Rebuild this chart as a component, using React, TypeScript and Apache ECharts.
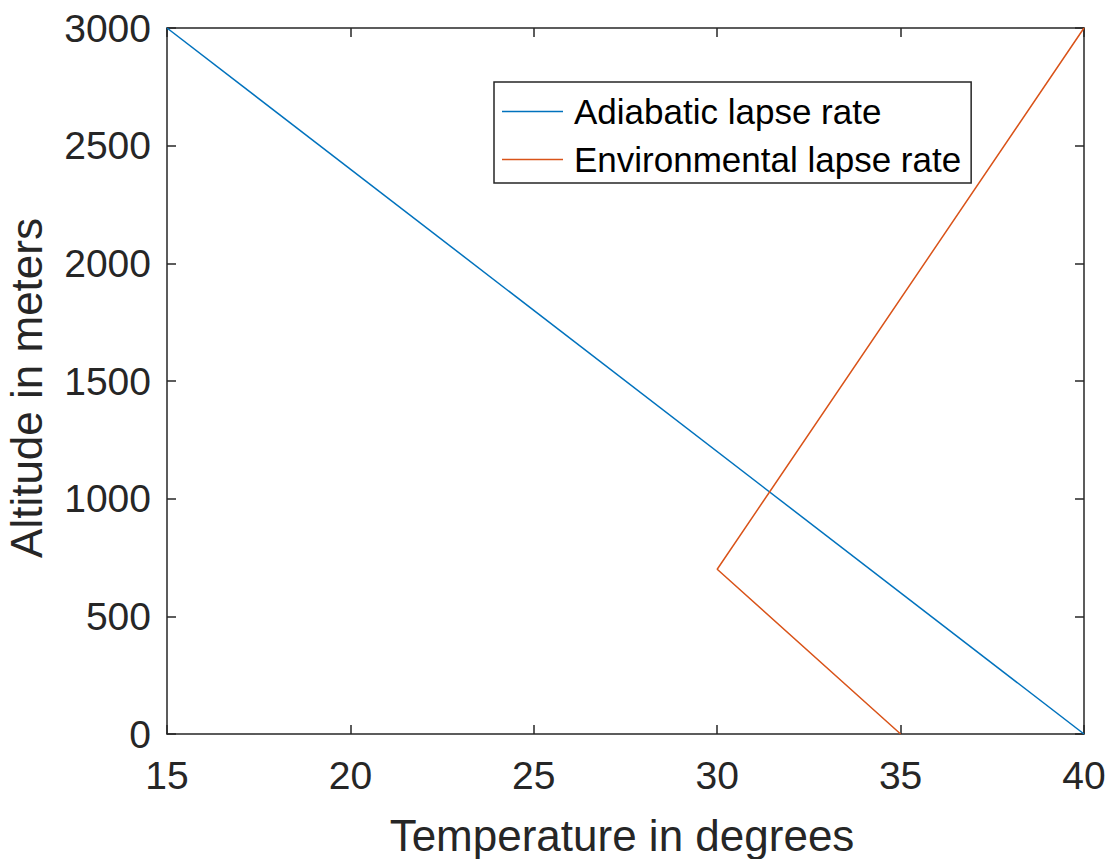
import React, { useEffect, useRef } from "react";
import * as echarts from "echarts";

const adiabaticTemp = [40, 15];
const adiabaticAlt = [0, 3000];
const environmentalTemp = [35, 30, 40];
const environmentalAlt = [0, 700, 3000];
const seriesNames = ["Adiabatic lapse rate", "Environmental lapse rate"];
const xTitle = "Temperature in degrees";
const yTitle = "Altitude in meters";

const FONT = "Arial, 'Liberation Sans', Helvetica, sans-serif";
const AXIS = "#262626";

export default function App() {
  const ref = useRef<HTMLDivElement>(null);
  useEffect(() => {
    if (!ref.current) return;
    const chart = echarts.init(ref.current, null, { renderer: "svg" });
    const tickStyle = { show: true, inside: true, length: 9, lineStyle: { color: AXIS, width: 1.5 } };
    const lineStyleAxis = { show: true, onZero: false, lineStyle: { color: AXIS, width: 1.5 } };
    chart.setOption({
      animation: false,
      backgroundColor: "#ffffff",
      grid: { left: 167, right: 30, top: 28, bottom: 125, containLabel: false },
      xAxis: [
        {
          type: "value", min: 15, max: 40, interval: 5, position: "bottom",
          axisLine: lineStyleAxis, axisTick: tickStyle, splitLine: { show: false },
          axisLabel: { color: AXIS, fontSize: 39, fontFamily: FONT, margin: 22, formatter: (v: number) => String(v) },
        },
        {
          type: "value", min: 15, max: 40, interval: 5, position: "top",
          axisLine: lineStyleAxis, axisTick: tickStyle, splitLine: { show: false },
          axisLabel: { show: false },
        },
      ],
      yAxis: [
        {
          type: "value", min: 0, max: 3000, interval: 500, position: "left",
          axisLine: lineStyleAxis, axisTick: tickStyle, splitLine: { show: false },
          axisLabel: { color: AXIS, fontSize: 39, fontFamily: FONT, margin: 16, formatter: (v: number) => String(v) },
        },
        {
          type: "value", min: 0, max: 3000, interval: 500, position: "right",
          axisLine: lineStyleAxis, axisTick: tickStyle, splitLine: { show: false },
          axisLabel: { show: false },
        },
      ],
      legend: {
        orient: "vertical",
        left: 494,
        top: 82,
        padding: [12, 10, 6, 8],
        itemGap: 13,
        itemWidth: 61,
        itemHeight: 1.5,
        icon: "rect",
        backgroundColor: "#ffffff",
        borderColor: AXIS,
        borderWidth: 1.5,
        borderRadius: 0,
        textStyle: { fontSize: 35, fontFamily: FONT, color: "#000000", padding: [0, 0, 0, 6] },
        data: seriesNames,
      },
      series: [
        {
          name: seriesNames[0],
          type: "line",
          xAxisIndex: 0,
          yAxisIndex: 0,
          symbol: "none",
          color: "#0072BD",
          lineStyle: { color: "#0072BD", width: 1.5 },
          data: adiabaticTemp.map((t, i) => [t, adiabaticAlt[i]]),
        },
        {
          name: seriesNames[1],
          type: "line",
          xAxisIndex: 0,
          yAxisIndex: 0,
          symbol: "none",
          color: "#D95319",
          lineStyle: { color: "#D95319", width: 1.5 },
          data: environmentalTemp.map((t, i) => [t, environmentalAlt[i]]),
        },
      ],
      graphic: [
        {
          type: "text", x: 622, y: 835,
          style: { text: xTitle, fontSize: 44, fontFamily: FONT, fill: AXIS, align: "center", verticalAlign: "middle" },
        },
        {
          type: "text", x: 26, y: 388, rotation: Math.PI / 2,
          style: { text: yTitle, fontSize: 44, fontFamily: FONT, fill: AXIS, align: "center", verticalAlign: "middle" },
        },
      ],
    });
    return () => chart.dispose();
  }, []);
  return <div ref={ref} style={{ position: "absolute", left: 0, top: 0, width: 1114, height: 859 }} />;
}
